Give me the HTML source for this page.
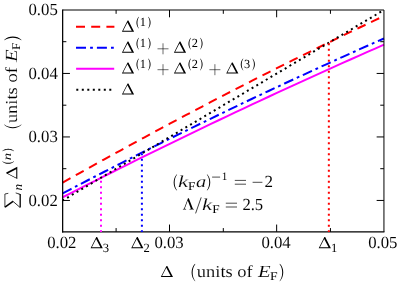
<!DOCTYPE html>
<html><head><meta charset="utf-8"><title>plot</title>
<style>html,body{margin:0;padding:0;background:#fff}svg{display:block;will-change:transform}text{font-family:"Liberation Serif",serif;fill:#000;text-rendering:geometricPrecision;stroke:#fff;stroke-width:0.1px}text.s{stroke:none}text.m{stroke-width:0.14px}text.t{stroke-width:0.04px}text.p{stroke-width:0.3px}.g{fill:#000;fill-rule:evenodd;stroke:none}</style></head><body>
<svg width="400" height="284" viewBox="0 0 400 284">
<rect width="400" height="284" fill="#fff"/>
<g fill="none" stroke-width="2">
<path d="M62.65,182.64 L70.89,177.99 L79.13,173.36 L87.37,168.75 L95.60,164.16 L103.84,159.59 L112.08,155.04 L120.32,150.51 L128.56,145.99 L136.80,141.50 L145.03,137.03 L153.27,132.58 L161.51,128.15 L169.75,123.74 L177.99,119.34 L186.23,114.97 L194.47,110.62 L202.70,106.29 L210.94,101.98 L219.18,97.68 L227.42,93.41 L235.66,89.16 L243.90,84.93 L252.13,80.71 L260.37,76.52 L268.61,72.35 L276.85,68.20 L285.09,64.06 L293.33,59.95 L301.57,55.86 L309.80,51.79 L318.04,47.73 L326.28,43.70 L334.52,39.69 L342.76,35.69 L351.00,31.72 L359.23,27.77 L367.47,23.83 L375.71,19.92 L383.95,16.03" stroke="#f00" stroke-dasharray="9 6.12"/>
<path d="M62.65,193.36 L70.89,189.05 L79.13,184.76 L87.37,180.49 L95.60,176.24 L103.84,172.00 L112.08,167.78 L120.32,163.58 L128.56,159.40 L136.80,155.23 L145.03,151.08 L153.27,146.95 L161.51,142.84 L169.75,138.74 L177.99,134.67 L186.23,130.61 L194.47,126.56 L202.70,122.54 L210.94,118.53 L219.18,114.54 L227.42,110.57 L235.66,106.62 L243.90,102.68 L252.13,98.77 L260.37,94.87 L268.61,90.98 L276.85,87.12 L285.09,83.27 L293.33,79.44 L301.57,75.63 L309.80,71.84 L318.04,68.06 L326.28,64.30 L334.52,60.56 L342.76,56.84 L351.00,53.13 L359.23,49.44 L367.47,45.77 L375.71,42.12 L383.95,38.49" stroke="#00f" stroke-dasharray="10 3.9 2.8 3.9"/>
<path d="M62.65,197.25 L70.89,193.05 L79.13,188.86 L87.37,184.69 L95.60,180.53 L103.84,176.39 L112.08,172.26 L120.32,168.15 L128.56,164.05 L136.80,159.97 L145.03,155.91 L153.27,151.86 L161.51,147.82 L169.75,143.80 L177.99,139.80 L186.23,135.81 L194.47,131.83 L202.70,127.88 L210.94,123.93 L219.18,120.01 L227.42,116.09 L235.66,112.20 L243.90,108.32 L252.13,104.45 L260.37,100.60 L268.61,96.76 L276.85,92.94 L285.09,89.14 L293.33,85.35 L301.57,81.57 L309.80,77.82 L318.04,74.07 L326.28,70.34 L334.52,66.63 L342.76,62.93 L351.00,59.25 L359.23,55.59 L367.47,51.93 L375.71,48.30 L383.95,44.68" stroke="#f0f"/>
<path d="M62.65,200.45 L383.95,10.0" stroke="#000" stroke-dasharray="2 3.5" stroke-dashoffset="0.3"/>
<path d="M76,26.8 H114.4" stroke="#f00" stroke-dasharray="9 6.2"/>
<path d="M76,47.8 H114.4" stroke="#00f" stroke-dasharray="10 4.1 2.8 4"/>
<path d="M76.1,68.65 H114.2" stroke="#f0f"/>
<path d="M76.3,89.7 H114.4" stroke="#000" stroke-dasharray="2 3.5"/>
</g>
<g fill="none" stroke="#000" stroke-width="1">
<path d="M62.65,10.0 H383.95 V231.85" stroke-width="1.0"/>
<path d="M62.65,9.5 V232.54999999999998" stroke-width="1.25"/><path d="M62.05,231.9 H384.45" stroke-width="1.4"/>
</g><g fill="none" stroke-width="2">
<path d="M101.0,231.9 L101.0,177.72" stroke="#f0f" stroke-dasharray="2 3.5" stroke-dashoffset="0.3"/>
<path d="M141.9,231.9 L141.9,153.47" stroke="#00f" stroke-dasharray="2 3.5" stroke-dashoffset="0.3"/>
<path d="M328.85,231.9 L328.85,42.66" stroke="#f00" stroke-dasharray="2 3.5" stroke-dashoffset="0.3"/>
</g><g fill="none" stroke="#000" stroke-width="1">
<path d="M169.50,231.85 v-7.3 M169.50,10.0 v7.3 M276.65,231.85 v-7.3 M276.65,10.0 v7.3 M116.10,231.85 v-3.8 M116.10,10.0 v3.8 M223.30,231.85 v-3.8 M223.30,10.0 v3.8 M330.45,231.85 v-3.8 M330.45,10.0 v3.8 M62.65,200.45 h7.3 M383.95,200.45 h-7.3 M62.65,136.95 h7.3 M383.95,136.95 h-7.3 M62.65,73.45 h7.3 M383.95,73.45 h-7.3 M62.65,168.70 h3.7 M383.95,168.70 h-3.7 M62.65,105.20 h3.7 M383.95,105.20 h-3.7 M62.65,41.70 h3.7 M383.95,41.70 h-3.7 "/>
</g>
<text class="t" x="28.5" y="205.55" font-size="17" textLength="29.3" lengthAdjust="spacingAndGlyphs">0.02</text>
<text class="t" x="28.5" y="142.05" font-size="17" textLength="29.3" lengthAdjust="spacingAndGlyphs">0.03</text>
<text class="t" x="28.5" y="78.55" font-size="17" textLength="29.3" lengthAdjust="spacingAndGlyphs">0.04</text>
<text class="t" x="28.5" y="14.90" font-size="17" textLength="29.3" lengthAdjust="spacingAndGlyphs">0.05</text>
<text class="t" x="47.2" y="248.2" font-size="17" textLength="29.3" lengthAdjust="spacingAndGlyphs">0.02</text>
<text class="t" x="154.4" y="248.2" font-size="17" textLength="29.3" lengthAdjust="spacingAndGlyphs">0.03</text>
<text class="t" x="261.4" y="248.2" font-size="17" textLength="29.3" lengthAdjust="spacingAndGlyphs">0.04</text>
<text class="t" x="368.2" y="248.2" font-size="17" textLength="29.3" lengthAdjust="spacingAndGlyphs">0.05</text>
<path class="g" d="M90.60,248.20 L96.30,237.10 L97.10,237.10 L102.80,248.20 Z M91.85,247.15 L96.10,238.90 L100.45,247.15 Z"/>
<text class="s" x="102.8" y="251.6" font-size="12.6">3</text>
<path class="g" d="M131.20,248.20 L136.90,237.10 L137.70,237.10 L143.40,248.20 Z M132.45,247.15 L136.70,238.90 L141.05,247.15 Z"/>
<text class="s" x="143.39999999999998" y="251.6" font-size="12.6">2</text>
<path class="g" d="M318.70,248.20 L324.40,237.10 L325.20,237.10 L330.90,248.20 Z M319.95,247.15 L324.20,238.90 L328.55,247.15 Z"/>
<text class="s" x="330.9" y="251.6" font-size="12.6">1</text>
<path class="g" d="M121.90,31.70 L127.60,20.60 L128.40,20.60 L134.10,31.70 Z M123.15,30.65 L127.40,22.40 L131.75,30.65 Z"/>
<path class="g" d="M138.81,16.70 C135.71,19.72 135.71,25.48 138.81,28.51 L138.99,28.29 C136.94,25.48 136.94,19.72 138.99,16.92 Z"/><text class="s" x="139.70" y="26.30" font-size="12.4">1</text><path class="g" d="M148.28,16.70 C151.38,19.72 151.38,25.48 148.28,28.51 L148.10,28.29 C150.15,25.48 150.15,19.72 148.10,16.92 Z"/>
<path class="g" d="M121.90,52.70 L127.60,41.60 L128.40,41.60 L134.10,52.70 Z M123.15,51.65 L127.40,43.40 L131.75,51.65 Z"/>
<path class="g" d="M138.81,37.70 C135.71,40.72 135.71,46.48 138.81,49.51 L138.99,49.29 C136.94,46.48 136.94,40.72 138.99,37.92 Z"/><text class="s" x="139.70" y="47.30" font-size="12.4">1</text><path class="g" d="M148.28,37.70 C151.38,40.72 151.38,46.48 148.28,49.51 L148.10,49.29 C150.15,46.48 150.15,40.72 148.10,37.92 Z"/>
<path d="M157.5,48.800000000000004 h11 M163.0,43.300000000000004 v11" stroke="#000" stroke-width="0.58" fill="none"/>
<path class="g" d="M173.90,52.70 L179.60,41.60 L180.40,41.60 L186.10,52.70 Z M175.15,51.65 L179.40,43.40 L183.75,51.65 Z"/>
<path class="g" d="M190.81,37.70 C187.71,40.72 187.71,46.48 190.81,49.51 L190.99,49.29 C188.94,46.48 188.94,40.72 190.99,37.92 Z"/><text class="s" x="191.70" y="47.30" font-size="12.4">2</text><path class="g" d="M200.28,37.70 C203.38,40.72 203.38,46.48 200.28,49.51 L200.10,49.29 C202.15,46.48 202.15,40.72 200.10,37.92 Z"/>
<path class="g" d="M121.90,73.60 L127.60,62.50 L128.40,62.50 L134.10,73.60 Z M123.15,72.55 L127.40,64.30 L131.75,72.55 Z"/>
<path class="g" d="M138.81,58.60 C135.71,61.62 135.71,67.38 138.81,70.41 L138.99,70.19 C136.94,67.38 136.94,61.62 138.99,58.82 Z"/><text class="s" x="139.70" y="68.20" font-size="12.4">1</text><path class="g" d="M148.28,58.60 C151.38,61.62 151.38,67.38 148.28,70.41 L148.10,70.19 C150.15,67.38 150.15,61.62 148.10,58.82 Z"/>
<path d="M157.5,69.69999999999999 h11 M163.0,64.19999999999999 v11" stroke="#000" stroke-width="0.58" fill="none"/>
<path class="g" d="M173.90,73.60 L179.60,62.50 L180.40,62.50 L186.10,73.60 Z M175.15,72.55 L179.40,64.30 L183.75,72.55 Z"/>
<path class="g" d="M190.81,58.60 C187.71,61.62 187.71,67.38 190.81,70.41 L190.99,70.19 C188.94,67.38 188.94,61.62 190.99,58.82 Z"/><text class="s" x="191.70" y="68.20" font-size="12.4">2</text><path class="g" d="M200.28,58.60 C203.38,61.62 203.38,67.38 200.28,70.41 L200.10,70.19 C202.15,67.38 202.15,61.62 200.10,58.82 Z"/>
<path d="M209.39999999999998,69.69999999999999 h11 M214.89999999999998,64.19999999999999 v11" stroke="#000" stroke-width="0.58" fill="none"/>
<path class="g" d="M226.20,73.60 L231.90,62.50 L232.70,62.50 L238.40,73.60 Z M227.45,72.55 L231.70,64.30 L236.05,72.55 Z"/>
<path class="g" d="M243.11,58.60 C240.01,61.62 240.01,67.38 243.11,70.41 L243.29,70.19 C241.24,67.38 241.24,61.62 243.29,58.82 Z"/><text class="s" x="244.00" y="68.20" font-size="12.4">3</text><path class="g" d="M252.58,58.60 C255.68,61.62 255.68,67.38 252.58,70.41 L252.40,70.19 C254.45,67.38 254.45,61.62 252.40,58.82 Z"/>
<path class="g" d="M121.90,94.60 L127.60,83.50 L128.40,83.50 L134.10,94.60 Z M123.15,93.55 L127.40,85.30 L131.75,93.55 Z"/>
<path class="g" d="M160.80,277.00 L166.50,265.90 L167.30,265.90 L173.00,277.00 Z M162.05,275.95 L166.30,267.70 L170.65,275.95 Z"/>
<path class="g" d="M195.03,263.85 C190.48,268.30 190.48,276.78 195.03,281.23 L195.30,280.92 C191.80,276.78 191.80,268.30 195.30,264.17 Z"/><text x="196.79999999999998" y="277" font-size="16.8" textLength="55.9" lengthAdjust="spacingAndGlyphs" xml:space="preserve">units of</text><text x="257.9" y="277" font-size="17" font-style="italic" textLength="12.6" lengthAdjust="spacingAndGlyphs">E</text><text class="s" x="269.9" y="279.7" font-size="11.8" textLength="7.6" lengthAdjust="spacingAndGlyphs">F</text><path class="g" d="M279.87,263.85 C284.42,268.30 284.42,276.78 279.87,281.23 L279.60,280.92 C283.10,276.78 283.10,268.30 279.60,264.17 Z"/>
<g transform="translate(17.3,208.5) rotate(-90)">
<g fill="none" stroke="#000" stroke-linejoin="miter"><path d="M15.2,-9.0 L14.5,-12.4 H1.2" stroke-width="0.75"/><path d="M1.3,-12.3 L7.2,-4.3" stroke-width="1.5"/><path d="M7.4,-4.6 L1.2,2.6" stroke-width="0.8"/><path d="M1.0,2.9 H14.3" stroke-width="1.3"/><path d="M13.6,3.55 L15.6,-1.6 L14.6,2.2 Z" stroke-width="0.4" fill="#000"/></g>
<text class="s" x="17.9" y="4.5" font-size="12.4" font-style="italic" textLength="6.6" lengthAdjust="spacingAndGlyphs">n</text>
<path class="g" d="M29.50,0.00 L35.20,-11.10 L36.00,-11.10 L41.70,0.00 Z M30.75,-1.05 L35.00,-9.30 L39.35,-1.05 Z"/>
<path class="g" d="M47.11,-15.00 C44.01,-11.98 44.01,-6.22 47.11,-3.19 L47.29,-3.41 C45.24,-6.22 45.24,-11.98 47.29,-14.78 Z"/><text class="s" x="48.20" y="-6.00" font-size="11.6" font-style="italic" textLength="7.4" lengthAdjust="spacingAndGlyphs">n</text><path class="g" d="M57.48,-15.00 C60.58,-11.98 60.58,-6.22 57.48,-3.19 L57.30,-3.41 C59.35,-6.22 59.35,-11.98 57.30,-14.78 Z"/>
<path class="g" d="M83.63,-13.15 C79.08,-8.70 79.08,-0.22 83.63,4.23 L83.90,3.92 C80.40,-0.22 80.40,-8.70 83.90,-12.83 Z"/><text x="85.4" y="0" font-size="16.8" textLength="55.9" lengthAdjust="spacingAndGlyphs" xml:space="preserve">units of</text><text x="146.5" y="0" font-size="17" font-style="italic" textLength="12.6" lengthAdjust="spacingAndGlyphs">E</text><text class="s" x="158.5" y="2.7" font-size="11.8" textLength="7.6" lengthAdjust="spacingAndGlyphs">F</text><path class="g" d="M168.46,-13.15 C173.02,-8.70 173.02,-0.22 168.46,4.23 L168.20,3.92 C171.70,-0.22 171.70,-8.70 168.20,-12.83 Z"/>
</g>
<path class="g" d="M176.90,174.20 C172.60,178.40 172.60,186.40 176.90,190.60 L177.15,190.30 C173.85,186.40 173.85,178.40 177.15,174.50 Z"/>
<text class="m" x="177.9" y="186.7" font-size="16.6" font-style="italic" textLength="10.2" lengthAdjust="spacingAndGlyphs">k</text>
<text class="s" x="188.0" y="189.7" font-size="11.8" textLength="7.4" lengthAdjust="spacingAndGlyphs">F</text>
<text class="m" x="196.0" y="186.7" font-size="16.6" font-style="italic" textLength="10.2" lengthAdjust="spacingAndGlyphs">a</text>
<path class="g" d="M207.05,174.20 C211.35,178.40 211.35,186.40 207.05,190.60 L206.80,190.30 C210.10,186.40 210.10,178.40 206.80,174.50 Z"/>
<path d="M212.1,177.1 h8.0" stroke="#000" stroke-width="0.7"/>
<text class="s" x="221.8" y="180.4" font-size="11.2">1</text>
<path d="M234.8,180.4 h11.2 M234.8,184.2 h11.2 M252.6,182.3 h9.8" stroke="#000" stroke-width="0.7"/>
<text class="t" x="264.4" y="186.8" font-size="17">2</text>
<path class="g" d="M182.90,209.50 L182.90,209.00 L184.00,208.80 L188.00,198.30 L188.80,198.30 L192.90,208.80 L193.90,209.00 L193.90,209.50 L189.50,209.50 L189.50,209.00 L190.90,208.80 L187.75,200.60 L184.70,208.80 L186.10,209.00 L186.10,209.50 Z"/>
<path d="M195.6,213.4 L201.2,197.4" stroke="#000" stroke-width="0.75"/>
<text class="m" x="202.1" y="209.5" font-size="16.6" font-style="italic" textLength="10.2" lengthAdjust="spacingAndGlyphs">k</text>
<text class="s" x="212.2" y="212.5" font-size="11.8" textLength="7.4" lengthAdjust="spacingAndGlyphs">F</text>
<path d="M225.8,203.2 h11.2 M225.8,207 h11.2" stroke="#000" stroke-width="0.7"/>
<text class="t" x="242.4" y="209.6" font-size="17" textLength="20.8" lengthAdjust="spacingAndGlyphs">2.5</text>
</svg></body></html>
